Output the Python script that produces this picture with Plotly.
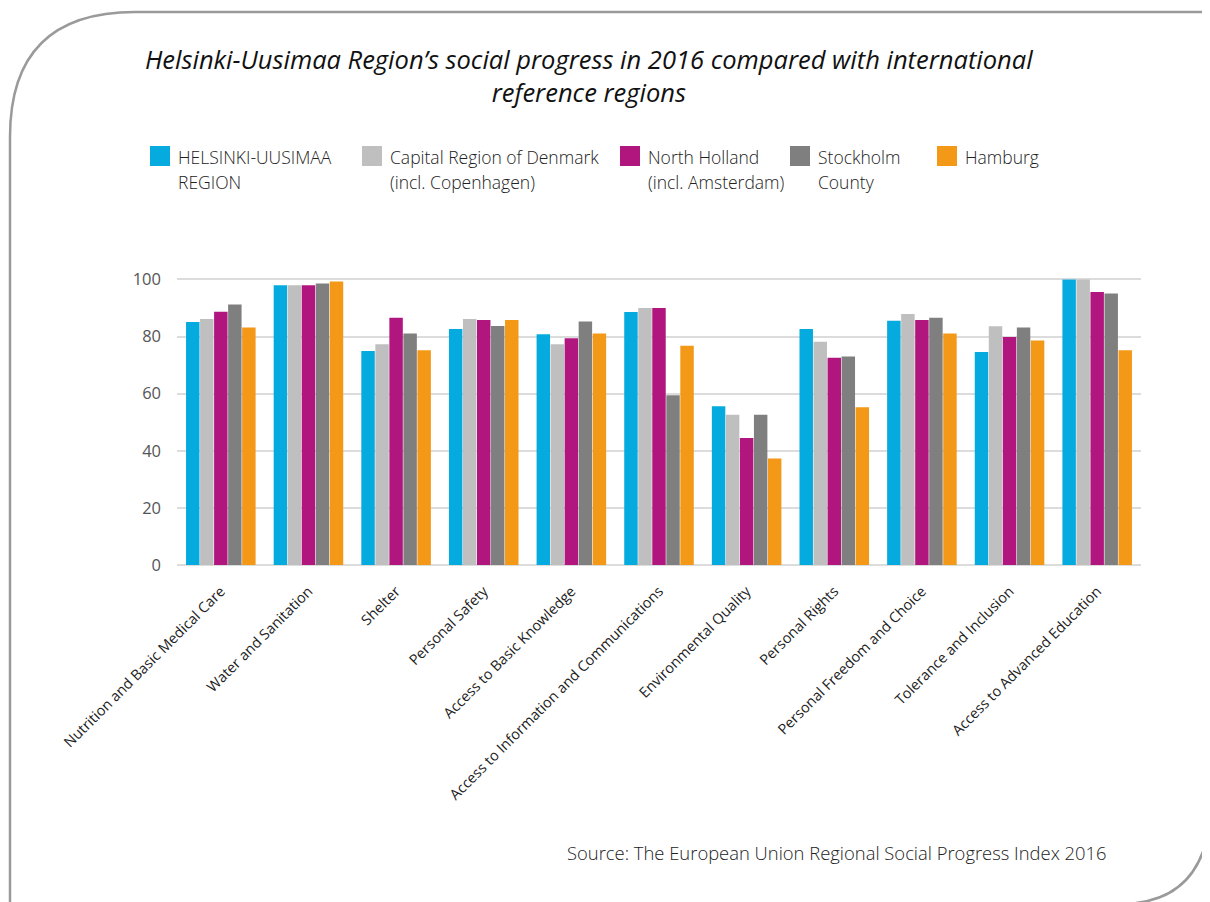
import plotly.graph_objects as go

categories = ["Nutrition and Basic Medical Care", "Water and Sanitation", "Shelter", "Personal Safety",
              "Access to Basic Knowledge", "Access to Information and Communications", "Environmental Quality",
              "Personal Rights", "Personal Freedom and Choice", "Tolerance and Inclusion", "Access to Advanced Education"]

helsinki = [85.1, 98.0, 74.9, 82.6, 80.8, 88.6, 55.6, 82.6, 85.5, 74.6, 100.0]
denmark = [86.1, 98.0, 77.3, 86.1, 77.3, 90.0, 52.6, 78.2, 87.9, 83.6, 100.0]
north_holland = [88.7, 98.0, 86.6, 85.8, 79.4, 90.0, 44.5, 72.6, 85.8, 79.8, 95.6]
stockholm = [91.2, 98.6, 81.1, 83.7, 85.3, 59.4, 52.6, 73.0, 86.6, 83.2, 95.1]
hamburg = [83.2, 99.3, 75.2, 85.8, 81.1, 76.8, 37.3, 55.2, 81.1, 78.6, 75.2]

series_names = ["HELSINKI-UUSIMAA<br>REGION", "Capital Region of Denmark<br>(incl. Copenhagen)",
                "North Holland<br>(incl. Amsterdam)", "Stockholm<br>County", "Hamburg"]
series_values = [helsinki, denmark, north_holland, stockholm, hamburg]
colors = ["#05ABDF", "#BFBFBF", "#B1167F", "#7F7F7F", "#F39817"]

# page has an 8px body margin; figure coordinates = page coordinates - 8
OFF = 8
W, H = 1202, 894
ML, MR, MT, MB = 177 - OFF, W - (1141 - OFF), 278 - OFF, H - (565 - OFF)
FONT = "Open Sans"

fig = go.Figure()
for name, vals, col in zip(series_names, series_values, colors):
    fig.add_trace(go.Bar(x=categories, y=vals, name=name.replace("<br>", " "), marker_color=col,
                         marker_line_width=0, showlegend=False))

def px(x):
    return (x - OFF - ML) / (W - ML - MR)

def py(y):
    return 1 - (y - OFF - MT) / (H - MT - MB)

shapes = []
annotations = []
# legend (manual)
leg_sq_x = [150, 362, 620, 790, 937]
for xs, name, col in zip(leg_sq_x, series_names, colors):
    shapes.append(dict(type="rect", xref="paper", yref="paper", x0=px(xs), x1=px(xs + 20),
                       y0=py(166), y1=py(146), fillcolor=col, line_width=0))
    for i, line in enumerate(name.split("<br>")):
        annotations.append(dict(xref="paper", yref="paper", x=px(xs + 26), y=py(157 + 25 * i), text=line,
                                showarrow=False, xanchor="left", yanchor="middle", align="left",
                                font=dict(family=FONT, size=17.5, color="#222", weight=300)))

# rounded border
r = 125
path = (f"M {px(10)},{py(910)} L {px(10)},{py(12 + r)} "
        f"Q {px(10)},{py(12)} {px(10 + r)},{py(12)} L {px(1215)},{py(12)}")
shapes.append(dict(type="path", xref="paper", yref="paper", path=path,
                   line=dict(color="#9a9a9a", width=2.5)))
path2 = f"M {px(1211)},{py(812)} Q {px(1205)},{py(895)} {px(1136)},{py(903)}"
shapes.append(dict(type="path", xref="paper", yref="paper", path=path2,
                   line=dict(color="#9a9a9a", width=2.5)))

annotations.append(dict(xref="paper", yref="paper", x=px(589), y=py(40),
                        text="<i>Helsinki-Uusimaa Region’s social progress in 2016 compared with international<br>reference regions</i>",
                        showarrow=False, xanchor="center", yanchor="top", align="center",
                        font=dict(family=FONT, size=25.5, color="#111")))
annotations.append(dict(xref="paper", yref="paper", x=px(1109), y=py(852),
                        text="Source: The European Union Regional Social Progress Index 2016",
                        showarrow=False, xanchor="right", yanchor="middle",
                        font=dict(family=FONT, size=18.4, color="#222", weight=300)))

fig.update_layout(
    width=W, height=H,
    margin=dict(l=ML, r=MR, t=MT, b=MB),
    paper_bgcolor="white", plot_bgcolor="white",
    barmode="group", bargap=0.2, bargroupgap=0.04,
    showlegend=False,
    shapes=shapes, annotations=annotations,
    font=dict(family=FONT),
    xaxis=dict(tickangle=-45, tickfont=dict(family=FONT, size=14.5, color="#222"),
               showgrid=False, showline=False, ticks="", ticklabelstandoff=14),
    yaxis=dict(range=[0, 100.5], tickvals=[0, 20, 40, 60, 80, 100], gridcolor="#dcdcdc", gridwidth=1.5,
               zeroline=True, zerolinecolor="#dcdcdc", zerolinewidth=1.5, showline=False,
               tickfont=dict(family=FONT, size=16.5, color="#555"), ticklabelstandoff=15),
)

fig.write_html("out.html")
